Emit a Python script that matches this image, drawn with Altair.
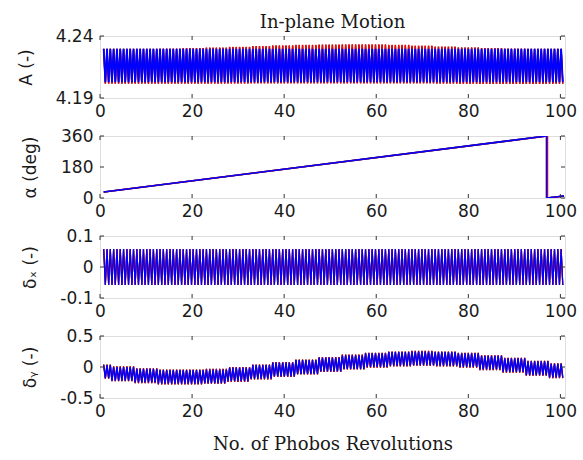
import altair as alt
import numpy as np
import pandas as pd

# ---------------- data ----------------
X_TICKS = [0, 20, 40, 60, 80, 100]
KNOTS = [0, 5, 10, 15, 20, 25, 30, 35, 40, 45, 50, 55, 60, 65, 70, 75, 80, 85, 90, 95, 100]
HALF_PERIOD = 0.36          # revolutions between a peak and the next trough
T_START, T_END = 0.8, 100.8

# Panel 1 : A (-), upper / lower envelopes of the oscillation
A_hi_black = [4.2296, 4.2296, 4.2296, 4.2297, 4.2300, 4.2305, 4.2311, 4.2317, 4.2322, 4.2326, 4.2329,
              4.2330, 4.2329, 4.2326, 4.2320, 4.2313, 4.2306, 4.2300, 4.2297, 4.2296, 4.2296]
A_lo_black = [4.2018, 4.2018, 4.2018, 4.2018, 4.2018, 4.2018, 4.2019, 4.2019, 4.2020, 4.2020, 4.2020,
              4.2020, 4.2020, 4.2020, 4.2019, 4.2018, 4.2016, 4.2014, 4.2013, 4.2014, 4.2016]
A_hi_red = [4.2297, 4.2297, 4.2297, 4.2298, 4.2302, 4.2308, 4.2314, 4.2320, 4.2325, 4.2329, 4.2332,
            4.2334, 4.2333, 4.2330, 4.2324, 4.2316, 4.2308, 4.2302, 4.2298, 4.2297, 4.2297]
A_lo_red = [4.2015, 4.2015, 4.2015, 4.2015, 4.2015, 4.2016, 4.2016, 4.2017, 4.2017, 4.2018, 4.2018,
            4.2018, 4.2018, 4.2018, 4.2017, 4.2016, 4.2014, 4.2013, 4.2013, 4.2014, 4.2015]
A_hi_blue = [4.2297, 4.2297, 4.2297, 4.2297, 4.2297, 4.2297, 4.2297, 4.2297, 4.2297, 4.2297, 4.2297,
             4.2297, 4.2297, 4.2297, 4.2297, 4.2297, 4.2297, 4.2297, 4.2297, 4.2297, 4.2297]
A_lo_blue = [4.2028, 4.2028, 4.2028, 4.2028, 4.2028, 4.2028, 4.2028, 4.2028, 4.2028, 4.2028, 4.2028,
             4.2028, 4.2028, 4.2028, 4.2028, 4.2028, 4.2028, 4.2028, 4.2028, 4.2028, 4.2028]

# Panel 2 : alpha (deg)
ALPHA_X_black = [0.8, 97.0, 97.0, 100.8]
ALPHA_black = [35, 360, 0, 12]
ALPHA_X_red = [0.8, 97.2, 97.2, 100.8]
ALPHA_red = [35, 360, 0, 12]
ALPHA_X_blue = [0.8, 97.0, 97.0, 100.8]
ALPHA_blue = [35, 360, 0, 12]

# Panel 3 : delta_x (-)
DX_hi = [0.058] * 21
DX_lo = [-0.058] * 21

# Panel 4 : delta_y (-)
DY_hi_blue = [0.03, 0.00, -0.03, -0.05, -0.05, -0.04, -0.01, 0.03, 0.07, 0.11, 0.15,
              0.19, 0.22, 0.24, 0.25, 0.24, 0.22, 0.18, 0.14, 0.09, 0.05]
DY_lo_blue = [-0.18, -0.22, -0.25, -0.27, -0.27, -0.26, -0.23, -0.19, -0.15, -0.11, -0.07,
              -0.03, 0.00, 0.02, 0.03, 0.02, 0.00, -0.04, -0.08, -0.13, -0.17]
DY_hi_red = [0.04, 0.01, -0.02, -0.04, -0.04, -0.03, 0.00, 0.04, 0.08, 0.12, 0.16,
             0.20, 0.23, 0.25, 0.26, 0.25, 0.23, 0.19, 0.15, 0.10, 0.06]
DY_lo_red = [-0.19, -0.23, -0.26, -0.28, -0.28, -0.27, -0.24, -0.20, -0.16, -0.12, -0.08,
             -0.04, -0.01, 0.01, 0.02, 0.01, -0.01, -0.05, -0.09, -0.14, -0.18]

COLORS = {"black": "#000000", "red": "#ff0000", "blue": "#0000ff"}

# ---------------- helpers ----------------
W, H = 465, 62
SANS = "DejaVu Sans"
SERIF = "DejaVu Serif"


def zigzag(hi, lo):
    t = np.arange(T_START, T_END + 1e-9, HALF_PERIOD)
    k = np.arange(len(t))
    idx = np.clip(np.rint(t / 5.0).astype(int), 0, len(KNOTS) - 1)
    hi = np.asarray(hi)
    lo = np.asarray(lo)
    y = np.where(k % 2 == 0, hi[idx], lo[idx])
    return pd.DataFrame({"x": t, "y": y})


def label_expr(fmt):
    return ("datum.value == 0 ? '0' : (datum.value < 0 ? '-' : '') + format(abs(datum.value), '%s')" % fmt)


def panel(series, ydom, yticks, ytitle, fmt, title_x, top_title=None, x_title=None):
    xs = alt.Scale(domain=[0, 101], nice=False, zero=False)
    ys = alt.Scale(domain=ydom, nice=False, zero=False)
    xkw = dict(values=X_TICKS, ticks=False, domain=False, grid=False, labelFlush=False,
               labelOverlap=False, labelFont=SANS, labelFontSize=17, labelColor="#1a1a1a",
               labelPadding=5)
    if x_title:
        xkw.update(title=x_title, titleFont=SERIF, titleFontSize=18, titleFontWeight="normal",
                   titleColor="#1a1a1a", titlePadding=16)
    else:
        xkw.update(title=None)
    xaxis = alt.Axis(**xkw)
    yaxis = alt.Axis(values=yticks, ticks=False, domain=False, grid=False, labelFont=SANS,
                     labelFontSize=17, labelColor="#1a1a1a", labelPadding=7, labelExpr=label_expr(fmt),
                     title=ytitle, titleFont=SANS, titleFontSize=17, titleFontWeight="normal",
                     titleColor="#1a1a1a", titleAngle=-90, titleX=title_x, titleY=H / 2,
                     titleAlign="center", titleBaseline="middle")
    layers = []
    for df, color, sw, dash in series:
        kw = dict(color=COLORS[color], strokeWidth=sw, clip=True)
        if dash:
            kw["strokeDash"] = dash
        layers.append(alt.Chart(df).mark_line(**kw).encode(
            x=alt.X("x:Q", scale=xs, axis=xaxis), y=alt.Y("y:Q", scale=ys, axis=yaxis)))
    # inward tick marks (MATLAB style)
    xt = pd.DataFrame({"x": X_TICKS})
    yt = pd.DataFrame({"y": yticks})
    tick_color = "#333333"
    layers.append(alt.Chart(xt).mark_rule(color=tick_color, strokeWidth=1).encode(
        x=alt.X("x:Q", scale=xs, axis=xaxis), y=alt.value(0), y2=alt.value(4)))
    layers.append(alt.Chart(xt).mark_rule(color=tick_color, strokeWidth=1).encode(
        x=alt.X("x:Q", scale=xs, axis=xaxis), y=alt.value(H - 4), y2=alt.value(H)))
    layers.append(alt.Chart(yt).mark_rule(color=tick_color, strokeWidth=1).encode(
        y=alt.Y("y:Q", scale=ys, axis=yaxis), x=alt.value(0), x2=alt.value(4)))
    layers.append(alt.Chart(yt).mark_rule(color=tick_color, strokeWidth=1).encode(
        y=alt.Y("y:Q", scale=ys, axis=yaxis), x=alt.value(W - 4), x2=alt.value(W)))
    props = dict(width=W, height=H)
    if top_title:
        props["title"] = alt.TitleParams(top_title, font=SERIF, fontSize=18, fontWeight="normal",
                                         color="#1a1a1a", anchor="middle", frame="group",
                                         baseline="bottom", offset=0, dy=23)
    return alt.layer(*layers).properties(**props)


p1 = panel([(zigzag(A_hi_black, A_lo_black), "black", 1.4, None),
            (zigzag(A_hi_red, A_lo_red), "red", 1.4, None),
            (zigzag(A_hi_blue, A_lo_blue), "blue", 1.8, None)],
           [4.19, 4.24], [4.19, 4.24], "A (-)", ".2f", -74, top_title="In-plane Motion")

p2 = panel([(pd.DataFrame({"x": ALPHA_X_black, "y": ALPHA_black}), "black", 1.5, None),
            (pd.DataFrame({"x": ALPHA_X_red, "y": ALPHA_red}), "red", 1.5, None),
            (pd.DataFrame({"x": ALPHA_X_blue, "y": ALPHA_blue}), "blue", 1.5, None)],
           [0, 360], [0, 180, 360], "α (deg)", ".0f", -70)

p3 = panel([(zigzag(DX_hi, DX_lo), "black", 1.2, None),
            (zigzag(DX_hi, DX_lo), "red", 1.2, None),
            (zigzag(DX_hi, DX_lo), "blue", 1.2, None)],
           [-0.1, 0.1], [-0.1, 0, 0.1], "δₓ (-)", ".1f", -70)

p4 = panel([(zigzag(DY_hi_red, DY_lo_red), "black", 1.2, None),
            (zigzag(DY_hi_red, DY_lo_red), "red", 1.2, None),
            (zigzag(DY_hi_blue, DY_lo_blue), "blue", 1.4, None)],
           [-0.5, 0.5], [-0.5, 0, 0.5], "δᵧ (-)", ".1f", -70, x_title="No. of Phobos Revolutions")

chart = alt.vconcat(p1, p2, p3, p4, spacing=38, bounds="flush").properties(
    padding={"left": 16, "top": 13, "right": 5, "bottom": 0}
).configure_view(stroke="#555555", strokeWidth=1.2).configure(background="white")

chart.save("out.html", embed_options={"renderer": "svg", "actions": False})
